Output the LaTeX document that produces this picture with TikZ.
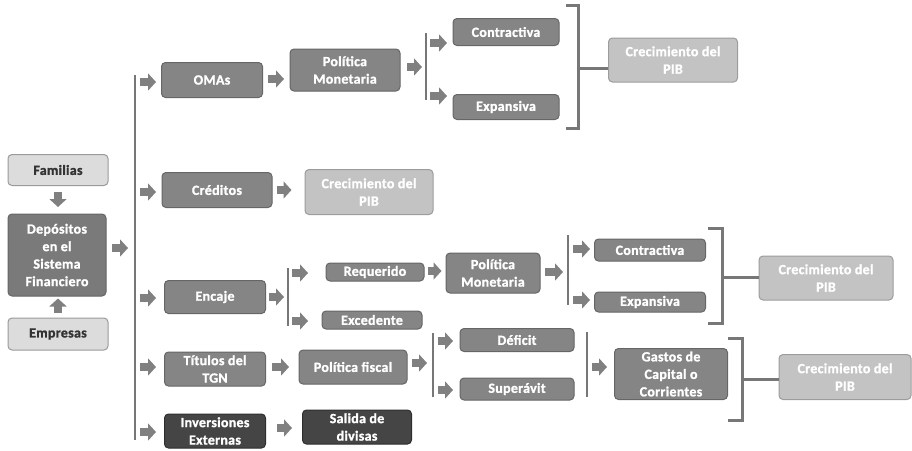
\documentclass[tikz,border=0pt]{standalone}
\usepackage{fontspec}
\setmainfont{Carlito}[BoldFont={* Bold}, BoldFeatures={FakeBold=1.3, LetterSpace=2}]
\usetikzlibrary{arrows.meta,calc}
\definecolor{midfill}{HTML}{858585}
\definecolor{midline}{HTML}{666666}
\definecolor{lightfill}{HTML}{DCDCDC}
\definecolor{lightline}{HTML}{9A9A9A}
\definecolor{crefill}{HTML}{C3C3C3}
\definecolor{creline}{HTML}{9C9C9C}
\definecolor{darkfill}{HTML}{454545}
\definecolor{darkline}{HTML}{2E2E2E}
\definecolor{depfill}{HTML}{7A7A7A}
\definecolor{linegray}{HTML}{777777}
\definecolor{arrgray}{HTML}{808080}
\definecolor{txtdark}{HTML}{333333}
\tikzset{
  box/.style={draw=midline, fill=midfill, text=white, rounded corners=4pt, line width=1pt,
    inner sep=0pt, align=center, font=\bfseries\fontsize{14}{17.5}\selectfont},
  lightbox/.style={box, draw=lightline, fill=lightfill, text=txtdark},
  crebox/.style={box, draw=creline, fill=crefill, text=white},
  darkbox/.style={box, draw=darkline, fill=darkfill, text=white},
  depbox/.style={box, draw=midline, fill=depfill, text=white},
  sz/.style args={#1x#2}{minimum width=#1pt, minimum height=#2pt},
  blk/.style={draw=arrgray, line width=8pt, -{Triangle[length=8pt,width=17pt]}},
  barline/.style={draw=linegray, line width=2.6pt},
  brk/.style={draw=linegray, line width=3pt},
}
\begin{document}
\begin{tikzpicture}[x=1pt,y=-1pt]
\useasboundingbox (0,0) rectangle (912,450);
% left column
\node[lightbox, sz=100x31] (fam) at (58,170) {Familias};
\node[depbox, sz=98x82] (dep) at (57,255) {Depósitos\\en el\\Sistema\\Financiero};
\node[lightbox, sz=100x32] (emp) at (58,334) {Empresas};
% row 1
\node[box, sz=101x35] (omas) at (212,80) {OMAs};
\node[box, sz=110x42] (pm1) at (345,70) {Política\\Monetaria};
\node[box, sz=106x27] (con1) at (506,32) {Contractiva};
\node[box, sz=106x25] (exp1) at (506,107) {Expansiva};
\node[crebox, sz=129x44] (cre1) at (673,60) {Crecimiento del\\PIB};
% row 2
\node[box, sz=110x35] (cred) at (217,190) {Créditos};
\node[crebox, sz=128x45] (cre2) at (369,192) {Crecimiento del\\PIB};
% row 3
\node[box, sz=101x33] (enc) at (215,297) {Encaje};
\node[box, sz=98x18] (req) at (375,272) {Requerido};
\node[box, sz=100x18] (exc) at (372,320) {Excedente};
\node[box, sz=94x40] (pm2) at (493,273) {Política\\Monetaria};
\node[box, sz=111x22] (con2) at (650,250) {Contractiva};
\node[box, sz=111x20] (exp2) at (650,302) {Expansiva};
\node[crebox, sz=134x44] (cre3) at (826,278) {Crecimiento del\\PIB};
% row 4
\node[box, sz=101x34] (tit) at (215,369) {Títulos del\\TGN};
\node[box, sz=108x34] (pf) at (353,367) {Política fiscal};
\node[box, sz=114x23] (def) at (517,340) {Déficit};
\node[box, sz=114x22] (sup) at (517,389) {Superávit};
\node[box, sz=113x51] (gas) at (671,374) {Gastos de\\Capital o\\Corrientes};
\node[crebox, sz=132x45] (cre4) at (845,377) {Crecimiento del\\PIB};
% row 5
\node[darkbox, sz=101x34] (inv) at (215,431) {Inversiones\\Externas};
\node[darkbox, sz=109x34] (sal) at (357,427) {Salida de\\divisas};
% bars
\coordinate (b1t) at (135,75);  \coordinate (b1b) at (135,440);
\coordinate (b2t) at (426,33);  \coordinate (b2b) at (426,100);
\coordinate (b3t) at (288,268); \coordinate (b3b) at (288,326);
\coordinate (b4t) at (568,235); \coordinate (b4b) at (568,305);
\coordinate (b5t) at (433,333); \coordinate (b5b) at (433,397);
\coordinate (b6t) at (587,332); \coordinate (b6b) at (587,397);
\foreach \a/\b in {b1t/b1b,b2t/b2b,b3t/b3b,b4t/b4b,b5t/b5b,b6t/b6b}
  \draw[barline] (\a) -- (\b);
% brackets
\draw[brk] (566,5) -- (578,5) -- (578,128) -- (566,128);
\draw[brk] (578,68) -- (cre1.west |- 0,68);
\draw[brk] (708,228) -- (722,228) -- (722,323) -- (708,323);
\draw[brk] (722,277) -- (cre3.west |- 0,277);
\draw[brk] (728,338) -- (742,338) -- (742,420) -- (728,420);
\draw[brk] (742,379) -- (cre4.west |- 0,379);
% block arrows
\draw[blk] ([yshift=-6pt]fam.south) -- ++(0,15);
\draw[blk] ([yshift=5pt]emp.north) -- ++(0,-14);
\draw[blk] (112,248) -- (128,248);
\draw[blk] (140,82) -- (156,82);
\draw[blk] ([xshift=5pt]omas.east |- 0,79) -- ++(16,0);
\draw[blk] (407,67) -- (422,67);
\draw[blk] (430,43) -- (447,43);
\draw[blk] (430,96) -- (447,96);
\draw[blk] (140,192) -- (156,192);
\draw[blk] ([xshift=4pt]cred.east) -- ++(15,0);
\draw[blk] (140,298) -- (156,298);
\draw[blk] (269,297) -- (284,297);
\draw[blk] (292,273) -- (308,273);
\draw[blk] (292,321) -- (308,321);
\draw[blk] ([xshift=3pt]req.east |- 0,271) -- ++(14,0);
\draw[blk] (545,272) -- (563,272);
\draw[blk] (573,249) -- (590,249);
\draw[blk] (573,300) -- (590,300);
\draw[blk] (140,367) -- (156,367);
\draw[blk] ([xshift=6pt]tit.east |- 0,367) -- ++(17,0);
\draw[blk] (412,363) -- (427,363);
\draw[blk] (438,341) -- (453,341);
\draw[blk] (438,390) -- (453,390);
\draw[blk] (592,367) -- (607,367);
\draw[blk] (140,432) -- (156,432);
\draw[blk] ([xshift=11pt]inv.east |- 0,428) -- ++(15,0);
\end{tikzpicture}
\end{document}
